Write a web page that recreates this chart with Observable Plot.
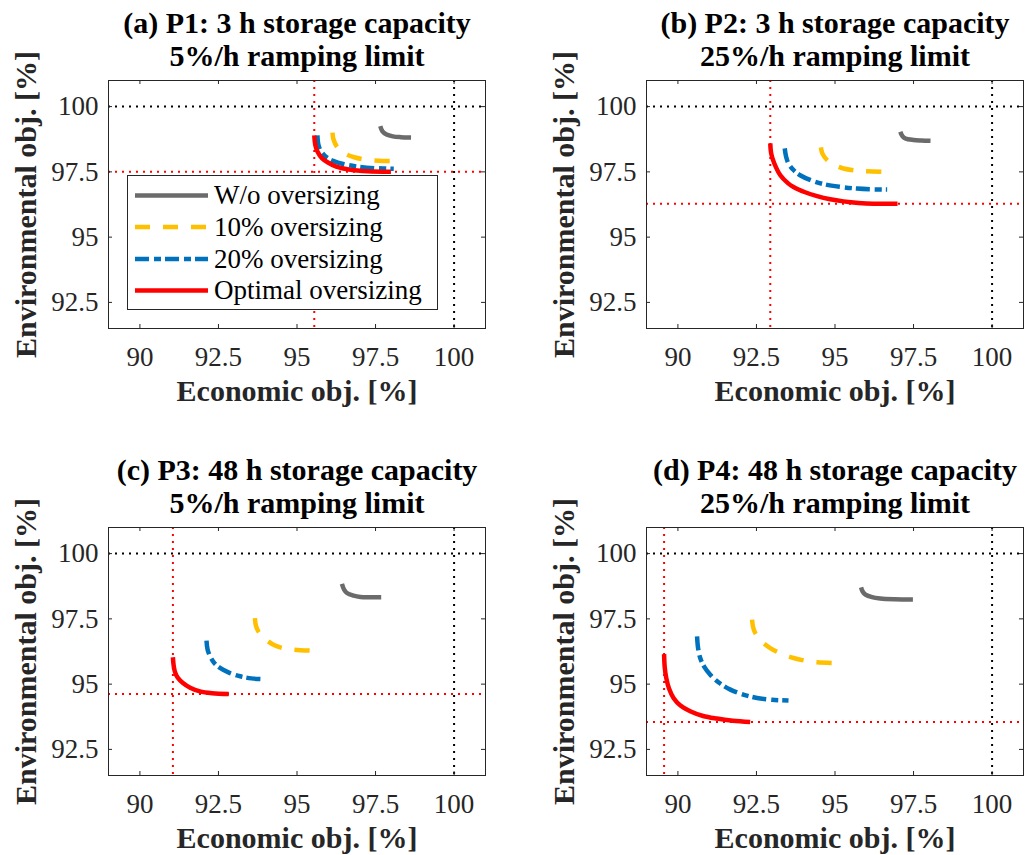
<!DOCTYPE html>
<html><head><meta charset="utf-8">
<script src="https://cdn.jsdelivr.net/npm/d3@7"></script>
<script src="https://cdn.jsdelivr.net/npm/@observablehq/plot@0.6"></script>
<style>
html,body{margin:0;padding:0;background:#fff;}
body{width:1025px;height:855px;overflow:hidden;position:relative;font-family:"Liberation Serif",serif;}
.panel{position:absolute;}
.legend{position:absolute;background:#fff;border:1px solid #262626;box-sizing:border-box;}
</style></head><body>
<script>
// ---- data ----
const seriesNames = ["W/o oversizing", "10% oversizing", "20% oversizing", "Optimal oversizing"];
const seriesColors = ["#6b6b6b", "#FFC000", "#0072BD", "#FF0000"];
const seriesDash = [undefined, "15,13", "14,5,7,4", undefined];
const titles = [
  "(a) P1: 3 h storage capacity\n5%/h ramping limit",
  "(b) P2: 3 h storage capacity\n25%/h ramping limit",
  "(c) P3: 48 h storage capacity\n5%/h ramping limit",
  "(d) P4: 48 h storage capacity\n25%/h ramping limit"
];
const xLabel = "Economic obj. [%]";
const yLabel = "Environmental obj. [%]";
const xTicks = [90, 92.5, 95, 97.5, 100];
const yTicks = [92.5, 95, 97.5, 100];
const refBlack = [100];
const optX = [95.55, 92.94, 91.05, 89.56];
const optY = [97.5, 96.28, 94.62, 93.55];

// P1
const p1_wo  = [[97.65,99.25],[97.72,99.05],[97.85,98.93],[98.05,98.86],[98.3,98.83],[98.63,98.82]];
const p1_o10 = [[96.13,99.0],[96.16,98.75],[96.28,98.45],[96.5,98.22],[96.82,98.06],[97.2,97.97],[97.6,97.93],[98.08,97.92]];
const p1_o20 = [[95.65,98.9],[95.68,98.55],[95.76,98.3],[95.92,98.08],[96.15,97.92],[96.5,97.79],[97.0,97.69],[97.5,97.64],[98.08,97.62]];
const p1_opt = [[95.55,98.9],[95.58,98.55],[95.65,98.28],[95.8,98.02],[96.0,97.85],[96.25,97.70],[96.7,97.58],[97.25,97.52],[97.99,97.5]];
// P2
const p2_wo  = [[97.08,99.04],[97.14,98.88],[97.24,98.78],[97.5,98.72],[97.75,98.7],[98.04,98.69]];
const p2_o10 = [[94.55,98.44],[94.6,98.2],[94.75,97.95],[95.0,97.76],[95.27,97.63],[95.6,97.56],[95.91,97.53],[96.55,97.5]];
const p2_o20 = [[93.4,98.4],[93.44,98.1],[93.52,97.82],[93.68,97.57],[93.89,97.37],[94.25,97.17],[94.64,97.03],[95.15,96.93],[95.7,96.86],[96.2,96.83],[96.66,96.82]];
const p2_opt = [[92.94,98.59],[92.97,98.2],[93.06,97.85],[93.26,97.37],[93.5,97.07],[93.68,96.92],[94.05,96.72],[94.43,96.57],[94.85,96.45],[95.27,96.37],[95.75,96.31],[96.23,96.28],[96.99,96.28]];
// P3
const p3_wo  = [[96.43,98.84],[96.5,98.62],[96.59,98.49],[96.8,98.39],[97.02,98.34],[97.35,98.33],[97.68,98.33]];
const p3_o10 = [[93.66,97.53],[93.69,97.25],[93.77,97.02],[93.98,96.74],[94.25,96.51],[94.55,96.38],[94.89,96.32],[95.48,96.28]];
const p3_o20 = [[92.12,96.67],[92.15,96.35],[92.23,96.07],[92.36,95.82],[92.55,95.62],[92.85,95.43],[93.19,95.3],[93.55,95.22],[93.96,95.19]];
const p3_opt = [[91.05,96.03],[91.07,95.75],[91.11,95.49],[91.2,95.25],[91.37,95.04],[91.6,94.86],[91.91,94.72],[92.3,94.65],[92.83,94.62]];
// P4
const p4_wo  = [[95.83,98.71],[95.88,98.55],[95.97,98.43],[96.18,98.33],[96.44,98.28],[96.9,98.25],[97.48,98.24]];
const p4_o10 = [[92.36,97.47],[92.39,97.2],[92.46,96.96],[92.65,96.65],[92.94,96.38],[93.3,96.16],[93.68,96.0],[94.05,95.9],[94.43,95.84],[95.01,95.81]];
const p4_o20 = [[90.61,96.83],[90.64,96.4],[90.71,96.0],[90.84,95.66],[91.03,95.36],[91.3,95.06],[91.67,94.79],[92.08,94.6],[92.52,94.47],[93.0,94.4],[93.52,94.37]];
const p4_opt = [[89.56,96.15],[89.58,95.65],[89.63,95.23],[89.72,94.82],[89.86,94.47],[90.08,94.18],[90.39,93.96],[90.8,93.78],[91.24,93.68],[91.75,93.6],[92.3,93.55]];

const panels = [
  [p1_wo, p1_o10, p1_o20, p1_opt],
  [p2_wo, p2_o10, p2_o20, p2_opt],
  [p3_wo, p3_o10, p3_o20, p3_opt],
  [p4_wo, p4_o10, p4_o20, p4_opt]
];

// ---- layout ----
const PW = 377, PH = 248, ML = 108, MT = 80, MB = 80, SVGH = 408;
const offsets = [[0, 0, 512], [538, 0, 487], [0, 447, 512], [538, 447, 487]];
const ink = "#262626";

function makePanel(i) {
  const [ox, oy, W] = offsets[i];
  const dotted = {strokeWidth: 2, strokeDasharray: "2,5"};
  const marks = [
    Plot.ruleX(refBlack, {x: d => d, stroke: "#000", ...dotted}),
    Plot.ruleY(refBlack, {y: d => d, stroke: "#000", ...dotted}),
    Plot.ruleX([optX[i]], {x: d => d, stroke: "#FF0000", ...dotted}),
    Plot.ruleY([optY[i]], {y: d => d, stroke: "#FF0000", ...dotted}),
    ...panels[i].map((c, k) => Plot.line(c, {
      x: d => d[0], y: d => d[1], stroke: seriesColors[k], strokeWidth: 4.5,
      strokeDasharray: seriesDash[k], curve: "catmull-rom", strokeLinecap: "butt", strokeLinejoin: "round"
    })),
    Plot.frame({stroke: ink, strokeWidth: 1}),
    Plot.tickX(xTicks, {x: d => d, insetTop: PH - 4, stroke: ink}),
    Plot.tickX(xTicks, {x: d => d, insetBottom: PH - 4, stroke: ink}),
    Plot.tickY(yTicks, {y: d => d, insetRight: PW - 4, stroke: ink}),
    Plot.tickY(yTicks, {y: d => d, insetLeft: PW - 4, stroke: ink}),
    Plot.axisX({ticks: xTicks, tickFormat: d => String(d), tickSize: 0, tickPadding: 18, label: null}),
    Plot.axisY({ticks: yTicks, tickFormat: d => String(d), tickSize: 0, tickPadding: 10, label: null}),
    Plot.text([xLabel], {text: d => d, frameAnchor: "bottom", dy: 72, fontSize: 30, fontWeight: "bold", fill: ink}),
    Plot.text([yLabel], {text: d => d, frameAnchor: "left", textAnchor: "middle", lineAnchor: "middle", rotate: -90, dx: -82, fontSize: 30, fontWeight: "bold", fill: ink}),
    Plot.text([titles[i]], {text: d => d, frameAnchor: "top", dy: -15, lineAnchor: "bottom", lineHeight: 1.1, fontSize: 30, fontWeight: "bold", fill: "#000"})
  ];
  const svg = Plot.plot({
    width: W, height: SVGH,
    marginLeft: ML, marginRight: W - ML - PW, marginTop: MT, marginBottom: MB,
    x: {domain: [89, 101]},
    y: {domain: [91.5, 101]},
    style: {fontFamily: "Liberation Serif", fontSize: "27px", color: ink, background: "transparent", overflow: "visible"},
    marks
  });
  const div = document.createElement("div");
  div.className = "panel";
  div.style.left = ox + "px";
  div.style.top = oy + "px";
  div.appendChild(svg);
  document.body.appendChild(div);
}
[0, 1, 2, 3].forEach(makePanel);

// ---- legend (panel a) ----
const leg = d3.select("body").append("div").attr("class", "legend")
  .style("left", "127px").style("top", "175px").style("width", "311px").style("height", "135px");
const lsvg = leg.append("svg").attr("width", 309).attr("height", 133)
  .style("font-family", "Liberation Serif").style("font-size", "27px");
const rowY = [19.5, 51, 83, 114.5];
seriesNames.forEach((n, k) => {
  lsvg.append("line").attr("x1", 7).attr("x2", 80).attr("y1", rowY[k]).attr("y2", rowY[k])
    .attr("stroke", seriesColors[k]).attr("stroke-width", 4.5)
    .attr("stroke-dasharray", seriesDash[k] || null);
  lsvg.append("text").attr("x", 86).attr("y", rowY[k]).attr("dy", "0.33em")
    .attr("fill", "#000").text(n);
});
</script>
</body></html>
